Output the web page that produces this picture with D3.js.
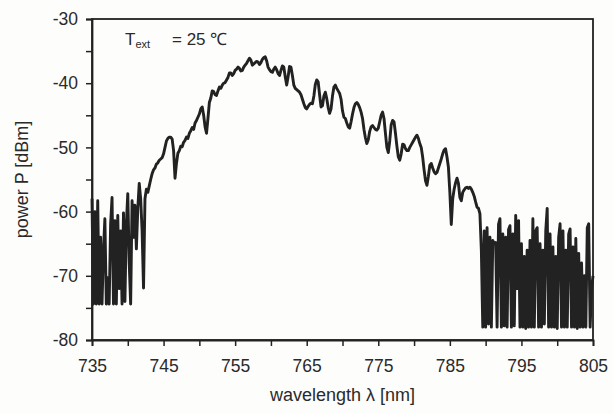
<!DOCTYPE html>
<html>
<head>
<meta charset="utf-8">
<script src="https://cdn.jsdelivr.net/npm/d3@7"></script>
<style>
  html, body { margin: 0; padding: 0; background: #fdfdfc; }
  svg { display: block; font-family: "Liberation Sans", Arial, sans-serif; }
  .axis path, .axis line { stroke: #222; }
  .axis text { fill: #2a2a2a; font-size: 17.5px; }
</style>
</head>
<body>
<svg id="chart" width="613" height="414"></svg>
<script>
// wavelength grid, 0.2 nm steps from 735 to 805 nm
const wlStart = 735;
const wlStep = 0.2;

// power P [dBm], 735.0 .. 742.8 nm (noise floor side)
const powerLeft = [
  -58.0, -74.4, -60.0, -74.4, -58.3, -74.4, -64.0, -74.4, -66.0, -61.1,
  -74.4, -70.3, -74.4, -62.0, -57.8, -74.4, -61.4, -74.4, -60.6, -72.0,
  -63.0, -74.4, -60.2, -74.0, -62.0, -57.2, -68.0, -74.4, -58.3, -64.0,
  -59.0, -65.8, -59.5, -55.6, -58.0, -63.0, -71.9, -58.0, -56.5, -57.0
];

// 743.0 .. 788.8 nm
const powerMain = [
  -56.0, -55.0, -54.1, -53.5, -53.2, -52.6, -52.4, -52.0, -51.8, -51.6,
  -51.0, -50.0, -49.0, -48.6, -48.4, -48.4, -48.7, -50.5, -54.8, -52.5,
  -50.9, -50.5, -49.8, -49.9, -49.2, -48.9, -48.4, -48.6, -47.8, -47.4,
  -46.9, -47.2, -46.2, -45.8, -45.3, -44.8, -44.0, -43.7, -45.0, -46.8,
  -47.8, -45.5, -43.0, -42.3, -41.2, -41.3, -41.8, -41.9, -41.2, -40.6,
  -40.8, -40.3, -40.0, -39.9, -39.5, -39.1, -38.4, -38.4, -38.8, -38.5,
  -38.0, -37.8, -37.5, -37.7, -38.1, -38.0, -37.5, -37.2, -36.9, -36.5,
  -36.1, -36.4, -37.2, -37.0, -36.8, -36.6, -36.7, -37.1, -36.8, -36.3,
  -36.0, -35.9, -36.5, -37.5, -37.9, -38.2, -38.3, -37.8, -37.5, -37.9,
  -38.5, -38.8, -38.0, -37.3, -37.5, -39.0, -40.3, -39.0, -37.4, -37.5,
  -38.8, -40.3, -40.8, -41.0, -41.2, -41.4, -41.8, -42.5, -43.2, -43.8,
  -44.0, -43.6, -43.3, -43.1, -43.2, -42.0, -40.2, -39.5, -39.8, -41.8,
  -43.7, -43.5, -42.0, -41.4, -42.4, -43.8, -44.7, -44.0, -42.0, -40.6,
  -40.3, -40.8, -41.2, -41.6, -42.5, -44.3, -45.3, -45.5, -46.2, -46.8,
  -47.0, -46.0, -44.8, -43.8, -43.2, -43.0, -43.3, -43.8, -44.5, -45.5,
  -47.2, -48.5, -49.4, -48.8, -47.5, -46.8, -46.6, -46.9, -47.2, -47.3,
  -47.0, -46.0, -45.0, -44.5, -45.5, -47.8, -50.0, -50.8, -49.0, -46.5,
  -45.8, -46.0, -47.8, -49.8, -51.5, -52.0, -51.0, -49.5, -49.6, -50.2,
  -50.5, -50.5, -50.0, -49.6, -49.2, -48.8, -48.4, -48.1, -48.6, -49.4,
  -50.0, -51.5, -53.5, -55.2, -55.9, -54.5, -52.8, -52.5, -53.2, -53.8,
  -54.1, -53.9, -53.2, -52.5, -51.8, -51.0, -50.4, -50.2, -51.5, -53.1,
  -57.0, -62.0, -58.0, -56.5, -55.5, -54.8, -55.6, -57.8, -58.3, -57.0,
  -56.6, -56.3, -56.2, -56.4, -56.2, -56.5, -57.0, -57.6, -58.5, -59.3
];

// 789.0 .. 805.0 nm (noise floor side)
const powerRight = [
  -59.5, -60.3, -66.0, -78.0, -63.0, -78.0, -62.5, -77.5, -64.0, -78.0,
  -64.5, -65.0, -64.8, -78.0, -62.0, -61.1, -78.0, -63.5, -77.8, -64.0,
  -78.0, -62.8, -62.2, -78.0, -63.5, -77.8, -60.6, -72.0, -61.4, -78.0,
  -65.0, -78.0, -67.0, -78.2, -66.0, -78.0, -64.5, -78.0, -61.1, -78.0,
  -63.0, -62.5, -78.0, -65.0, -78.0, -66.0, -77.5, -63.0, -59.5, -78.0,
  -63.5, -78.0, -65.5, -78.0, -67.0, -78.2, -64.0, -61.9, -78.0, -63.0,
  -78.0, -66.0, -78.0, -63.5, -62.7, -78.0, -65.5, -78.0, -64.2, -78.2,
  -66.5, -78.0, -68.0, -78.0, -70.0, -78.0, -62.5, -61.9, -78.0, -72.0,
  -70.0
];

const xTicks = d3.range(735, 806, 5);
const xLabels = [735, 745, 755, 765, 775, 785, 795, 805];
const yTicks = d3.range(-80, -29, 5);
const yLabels = [-80, -70, -60, -50, -40, -30];

const power = [...powerLeft, ...powerMain, ...powerRight];
const data = power.map((p, i) => ({wl: wlStart + i * wlStep, p}));

const margin = {top: 19, right: 20, bottom: 74, left: 92};
const width = 613, height = 414;

const svg = d3.select('#chart');

const x = d3.scaleLinear()
    .domain([735, 805])
    .range([margin.left, width - margin.right]);

const y = d3.scaleLinear()
    .domain([-80, -30])
    .range([height - margin.bottom, margin.top]);

// frame
svg.append('rect')
    .attr('x', x(735))
    .attr('y', y(-30))
    .attr('width', x(805) - x(735))
    .attr('height', y(-80) - y(-30))
    .attr('fill', 'none')
    .attr('stroke', '#222')
    .attr('stroke-width', 1.8);

// axes
svg.append('g')
    .attr('class', 'axis')
    .attr('transform', `translate(0,${y(-80)})`)
    .call(d3.axisBottom(x)
        .tickValues(xTicks)
        .tickSize(6)
        .tickPadding(14)
        .tickFormat(d => xLabels.includes(d) ? d : ''))
    .call(g => g.select('.domain').attr('stroke-width', 1.8))
    .call(g => g.selectAll('.tick line').attr('stroke-width', 1.5));

svg.append('g')
    .attr('class', 'axis')
    .attr('transform', `translate(${x(735)},0)`)
    .call(d3.axisLeft(y)
        .tickValues(yTicks)
        .tickSize(6)
        .tickPadding(8)
        .tickFormat(d => yLabels.includes(d) ? d : ''))
    .call(g => g.select('.domain').attr('stroke-width', 1.8))
    .call(g => g.selectAll('.tick line').attr('stroke-width', 1.5));

// spectrum
const line = d3.line()
    .x(d => x(d.wl))
    .y(d => y(d.p));

svg.append('path')
    .datum(data)
    .attr('fill', 'none')
    .attr('stroke', '#222')
    .attr('stroke-width', 2.9)
    .attr('stroke-linejoin', 'round')
    .attr('d', line);

// titles
svg.append('text')
    .attr('x', (x(735) + x(805)) / 2)
    .attr('y', 401)
    .attr('text-anchor', 'middle')
    .attr('fill', '#2a2a2a')
    .attr('font-size', 18)
    .text('wavelength λ [nm]');

svg.append('text')
    .attr('transform', `translate(28,${(y(-30) + y(-80)) / 2}) rotate(-90)`)
    .attr('text-anchor', 'middle')
    .attr('fill', '#2a2a2a')
    .attr('font-size', 18)
    .text('power P [dBm]');

// annotation
const note = svg.append('text')
    .attr('x', 125)
    .attr('y', 45)
    .attr('fill', '#2a2a2a')
    .attr('font-size', 17);
note.append('tspan').text('T');
note.append('tspan').attr('font-size', 11).attr('dy', 3).text('ext');
note.append('tspan').attr('x', 172).attr('dy', -3).text('= 25 ℃');
</script>
</body>
</html>
